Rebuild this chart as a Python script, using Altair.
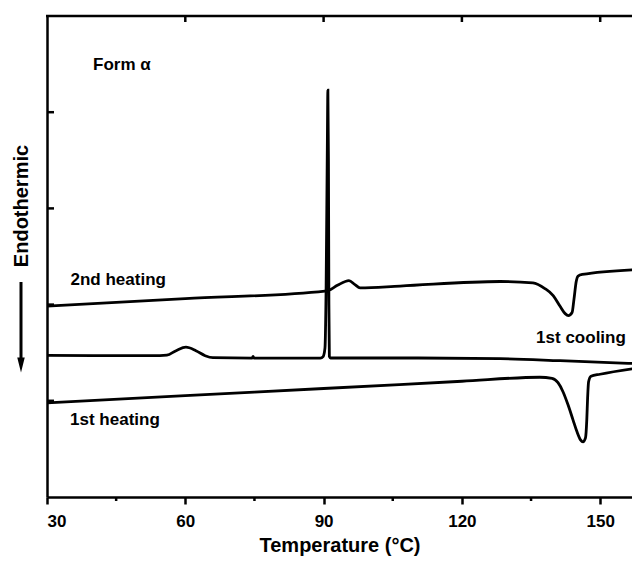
import altair as alt
import pandas as pd

# ---- data ----
# 2nd heating (upper trace)
heat2_t = [30, 60, 90.3, 91.2, 93.0, 95.5, 96.8, 97.9, 106.6, 128.3, 135.4, 138.0, 139.8,
           141.3, 142.4, 143.1, 143.9, 144.3, 144.8, 145.2, 146.1, 158.6]
heat2_y = [1.984, 2.062, 2.141, 2.150, 2.200, 2.250, 2.208, 2.174, 2.193, 2.240, 2.226, 2.167, 2.094,
           1.982, 1.906, 1.885, 1.917, 2.052, 2.240, 2.297, 2.313, 2.365]

# 1st cooling (middle trace)
cool1_t = [30, 54.5, 56.0, 58.0, 60.15, 62.3, 64.3, 66.0, 74.5, 74.7, 74.9, 84.9, 89.3, 89.9,
           90.3, 90.55, 90.8, 90.93, 91.05, 91.15, 91.25, 91.5, 106.6, 128.3, 141.3, 158.6]
cool1_y = [1.472, 1.469, 1.474, 1.521, 1.557, 1.521, 1.469, 1.448, 1.444, 1.462, 1.444, 1.443, 1.443, 1.46,
           1.55, 2.2, 3.6, 4.229, 3.5, 2.0, 1.46, 1.445, 1.445, 1.4375, 1.417, 1.385]

# 1st heating (lower trace)
heat1_t = [30, 60, 90, 120, 136.9, 139.55, 140.85, 141.93, 143.02, 144.10, 144.97, 145.73, 146.27,
           146.81, 147.09, 147.27, 147.48, 148.0, 149.96, 158.6]
heat1_y = [0.979, 1.054, 1.128, 1.203, 1.245, 1.234, 1.188, 1.094, 0.958, 0.802, 0.677, 0.594, 0.573,
           0.615, 0.802, 1.031, 1.198, 1.255, 1.276, 1.344]

# annotations
label_text = ["Form \u03b1", "2nd heating", "1st cooling", "1st heating"]
label_t = [40.0, 35.1, 136.1, 35.0]
label_y = [4.49, 2.26, 1.656, 0.80]

x_ticks = [30, 60, 90, 120, 150]
x_minor = [45, 75, 105, 135]
top_ticks = [60, 90, 120, 150]
left_ticks = [1, 2, 3, 4]

PX_PER_DEG = 4.61
W, H = 585, 481
X_MIN = 30
X_MAX = X_MIN + W / PX_PER_DEG
Y_MIN, Y_MAX = 0, 5
FONT = "Liberation Sans"

rows = []
for name, ts, ys in [("2nd heating", heat2_t, heat2_y),
                     ("1st cooling", cool1_t, cool1_y),
                     ("1st heating", heat1_t, heat1_y)]:
    for t, y in zip(ts, ys):
        rows.append({"series": name, "t": t, "y": y})
curves = pd.DataFrame(rows)

labels = pd.DataFrame({"text": label_text, "t": label_t, "y": label_y})

x_enc = alt.X("t:Q",
              scale=alt.Scale(domain=[X_MIN, X_MAX], nice=False, zero=False),
              axis=alt.Axis(values=x_ticks, format="d", title="Temperature (\u00b0C)",
                            grid=False, tickSize=7, tickWidth=2.5, tickColor="black",
                            domainColor="black", domainWidth=2.5,
                            labelFont=FONT, labelFontSize=17, labelFontWeight="bold",
                            labelColor="black", labelPadding=9,
                            titleFont=FONT, titleFontSize=20, titleFontWeight="bold",
                            titleColor="black", titlePadding=6))
y_enc = alt.Y("y:Q",
              scale=alt.Scale(domain=[Y_MIN, Y_MAX], nice=False, zero=False),
              axis=alt.Axis(ticks=False, labels=False, title=None, grid=False,
                            domainColor="black", domainWidth=2.5))

lines = alt.Chart(curves).mark_line(color="black", strokeWidth=2.8,
                                    interpolate="monotone", clip=True).encode(
    x=x_enc, y=y_enc, detail="series:N")

text = alt.Chart(labels).mark_text(align="left", baseline="middle", font=FONT,
                                   fontSize=17, fontWeight="bold", color="black").encode(
    x=x_enc, y=y_enc, text="text:N")

top_df = pd.DataFrame({"t": top_ticks})
top_tk = alt.Chart(top_df).mark_rule(color="black", strokeWidth=2.5).encode(
    x=x_enc, y=alt.value(0), y2=alt.value(6))

minor_df = pd.DataFrame({"t": x_minor})
minor_tk = alt.Chart(minor_df).mark_rule(color="black", strokeWidth=2.5).encode(
    x=x_enc, y=alt.value(H), y2=alt.value(H + 4))

left_df = pd.DataFrame({"y": left_ticks})
left_tk = alt.Chart(left_df).mark_rule(color="black", strokeWidth=2.5).encode(
    y=y_enc, x=alt.value(0), x2=alt.value(7))

top_border = alt.Chart(pd.DataFrame({"k": [0]})).mark_rule(color="black", strokeWidth=2.5).encode(
    x=alt.value(-1), x2=alt.value(W + 2), y=alt.value(0))

endo = alt.Chart(pd.DataFrame({"text": ["Endothermic"]})).mark_text(
    angle=270, align="center", baseline="middle", font=FONT, fontSize=20,
    fontWeight="bold", color="black").encode(
    x=alt.value(-25), y=alt.value(190), text="text:N")

arrow_shaft = alt.Chart(pd.DataFrame({"k": [0]})).mark_rule(color="black", strokeWidth=3).encode(
    x=alt.value(-26), y=alt.value(266), y2=alt.value(345))

arrow_head = alt.Chart(pd.DataFrame({"k": [0]})).mark_point(
    shape="M-0.5,-1L0.5,-1L0,1Z", size=225, filled=True, color="black", opacity=1).encode(
    x=alt.value(-26), y=alt.value(349))

chart = alt.layer(lines, text, top_tk, minor_tk, left_tk, top_border,
                  endo, arrow_shaft, arrow_head).properties(
    width=W, height=H,
    autosize=alt.AutoSizeParams(type="none"),
    padding={"left": 39, "top": 8, "right": 0, "bottom": 59},
).configure_view(stroke=None).configure(background="white")

chart.save("out.html", embed_options={"renderer": "svg", "actions": False})
